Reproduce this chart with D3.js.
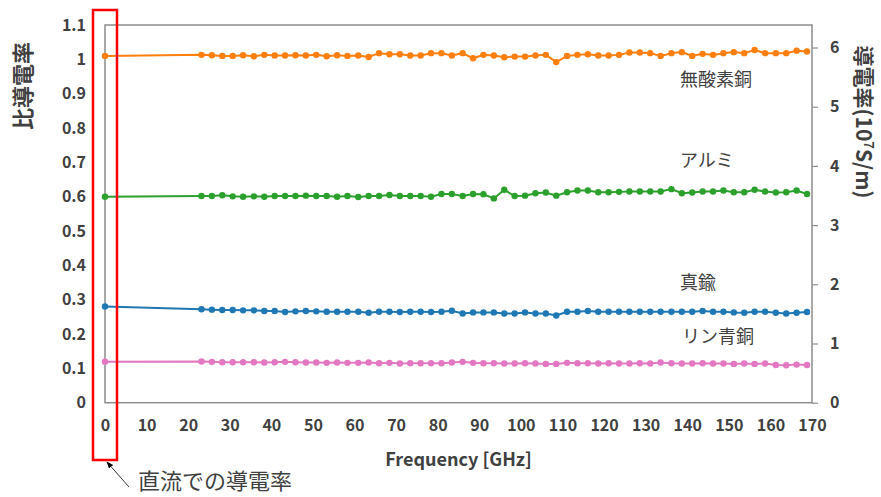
<!DOCTYPE html>
<html><head><meta charset="utf-8">
<script src="https://cdn.jsdelivr.net/npm/d3@7"></script>
<style>
html,body{margin:0;padding:0;background:#fff;}
svg text{font-family:"Noto Sans CJK JP","Noto Sans",sans-serif;}
</style></head>
<body><svg id="c" width="881" height="497"></svg>
<script>
const freqs = [23.2,25.7,28.2,30.7,33.2,35.8,38.3,40.8,43.3,45.8,48.3,50.8,53.3,55.8,58.3,60.9,63.4,65.9,68.4,70.9,73.4,75.9,78.4,80.9,83.4,86.0,88.5,91.0,93.5,96.0,98.5,101.0,103.5,106.0,108.5,111.1,113.6,116.1,118.6,121.1,123.6,126.1,128.6,131.1,133.6,136.2,138.7,141.2,143.7,146.2,148.7,151.2,153.7,156.2,158.7,161.3,163.8,166.3,168.8];
const seriesNames = ["無酸素銅","アルミ","真鍮","リン青銅"];
const dcValues = [1.010, 0.600, 0.280, 0.1195];
const oxygenFreeCopper = [1.013,1.012,1.010,1.010,1.012,1.009,1.013,1.011,1.011,1.012,1.011,1.013,1.009,1.012,1.010,1.011,1.007,1.018,1.015,1.015,1.011,1.011,1.018,1.018,
  1.011,1.018,1.003,1.013,1.011,1.006,1.008,1.008,1.011,1.013,0.992,1.010,1.013,1.015,1.011,1.011,1.013,1.020,1.020,1.018,1.010,1.018,1.021,1.010,1.016,1.013,1.018,1.021,1.018,1.027,1.018,1.018,1.018,1.025,1.023];
const aluminium = [0.602,0.602,0.604,0.601,0.600,0.601,0.600,0.602,0.602,0.602,0.603,0.602,0.602,0.600,0.602,0.599,0.602,0.602,0.605,0.602,0.602,0.602,0.600,0.608,
  0.608,0.602,0.608,0.607,0.595,0.620,0.602,0.603,0.610,0.612,0.603,0.613,0.618,0.618,0.613,0.613,0.614,0.615,0.615,0.615,0.615,0.622,0.610,0.612,0.615,0.615,0.618,0.613,0.613,0.620,0.615,0.612,0.613,0.618,0.608];
const brass = [0.272,0.271,0.270,0.270,0.269,0.269,0.267,0.267,0.264,0.266,0.267,0.266,0.265,0.265,0.265,0.265,0.262,0.265,0.265,0.264,0.265,0.265,0.264,0.265,
  0.268,0.260,0.263,0.263,0.263,0.260,0.260,0.263,0.260,0.260,0.254,0.265,0.265,0.267,0.265,0.265,0.265,0.265,0.265,0.265,0.265,0.265,0.265,0.265,0.267,0.265,0.265,0.263,0.262,0.265,0.265,0.262,0.260,0.262,0.264];
const phosphorBronze = [0.120,0.119,0.118,0.118,0.118,0.118,0.117,0.118,0.119,0.118,0.117,0.117,0.116,0.117,0.116,0.116,0.117,0.115,0.116,0.114,0.115,0.115,0.115,0.115,
  0.117,0.119,0.116,0.115,0.115,0.114,0.114,0.115,0.114,0.113,0.113,0.116,0.115,0.115,0.114,0.115,0.114,0.114,0.115,0.114,0.117,0.115,0.114,0.114,0.115,0.114,0.114,0.113,0.114,0.113,0.114,0.110,0.109,0.111,0.110];
const xTicks = [0,10,20,30,40,50,60,70,80,90,100,110,120,130,140,150,160,170];
const yLeftTicks = [0,0.1,0.2,0.3,0.4,0.5,0.6,0.7,0.8,0.9,1,1.1];
const yRightTicks = [0,1,2,3,4,5,6];
const colors = ["#ff7f0e","#2ca02c","#1f77b4","#e377c2"];

const allSeries = [oxygenFreeCopper, aluminium, brass, phosphorBronze];
const svg = d3.select("#c");
const L=105, R=812, T=25, B=402.7;
const x = d3.scaleLinear([0,170],[L,R]);
const yL = d3.scaleLinear([0,1.1],[B,T]);
const yR = d3.scaleLinear([0,1.1*5.8],[B,T]);
const tickColor = "#404040";

// plot box
svg.append("rect").attr("x",L).attr("y",T).attr("width",R-L).attr("height",B-T)
  .attr("fill","none").attr("stroke","#8c8c8c").attr("stroke-width",1.5);

// axes
const gx = svg.append("g").attr("transform",`translate(0,${B})`)
  .call(d3.axisBottom(x).tickValues(xTicks).tickSize(0).tickPadding(17).tickFormat(d3.format("d")));
const gl = svg.append("g").attr("transform",`translate(${L},0)`)
  .call(d3.axisLeft(yL).tickValues(yLeftTicks).tickSize(0).tickPadding(19).tickFormat(d=>d3.format("")(+d.toFixed(1))));
const gr = svg.append("g").attr("transform",`translate(${R},0)`)
  .call(d3.axisRight(yR).tickValues(yRightTicks).tickSize(6).tickPadding(12).tickFormat(d3.format("d")));
[gx,gl,gr].forEach(g=>{
  g.select(".domain").remove();
  g.selectAll("text").attr("fill",tickColor).attr("font-size",16).attr("font-weight",700)
    .style("font-family","'Noto Sans CJK JP',sans-serif");
  g.selectAll("line").attr("stroke","#8c8c8c").attr("stroke-width",1.2);
});

// series
const line = d3.line().x(d=>x(d[0])).y(d=>yL(d[1]));
allSeries.forEach((vals,i)=>{
  const pts = [[0,dcValues[i]]].concat(freqs.map((f,j)=>[f,vals[j]]));
  svg.append("path").datum(pts).attr("d",line).attr("fill","none")
    .attr("stroke",colors[i]).attr("stroke-width",2);
  svg.append("g").selectAll("circle").data(pts).join("circle")
    .attr("cx",d=>x(d[0])).attr("cy",d=>yL(d[1])).attr("r",3.2).attr("fill",colors[i]);
});

// series labels
const labelPos = [[680,86],[680,167],[680,289],[682,343]];
seriesNames.forEach((n,i)=>{
  svg.append("text").attr("x",labelPos[i][0]).attr("y",labelPos[i][1]).text(n)
    .attr("font-size",18).attr("fill",tickColor);
});

// axis titles
svg.append("text").attr("x",458.5).attr("y",466).attr("text-anchor","middle")
  .attr("font-size",18).attr("font-weight",700).attr("fill",tickColor).text("Frequency [GHz]");
svg.append("text").attr("transform","translate(31,86) rotate(-90)").attr("text-anchor","middle")
  .attr("font-size",22).attr("font-weight",700).attr("fill",tickColor).text("比導電率");
const rt = svg.append("text").attr("transform","translate(856,122) rotate(90)").attr("text-anchor","middle")
  .attr("font-size",21).attr("font-weight",700).attr("fill",tickColor);
rt.append("tspan").text("導電率(10");
rt.append("tspan").attr("font-size",13).attr("dy",-8).text("7");
rt.append("tspan").attr("dy",8).text("S/m)");

// annotation
svg.append("rect").attr("x",93).attr("y",10).attr("width",24).attr("height",450)
  .attr("fill","none").attr("stroke","#ff0000").attr("stroke-width",2.5);
svg.append("defs").append("marker").attr("id","ah").attr("viewBox","0 0 10 10")
  .attr("refX",9).attr("refY",5).attr("markerWidth",7).attr("markerHeight",7).attr("orient","auto")
  .append("path").attr("d","M0,1 L10,5 L0,9 Z").attr("fill","#000");
svg.append("line").attr("x1",129).attr("y1",487).attr("x2",107).attr("y2",462)
  .attr("stroke","#333").attr("stroke-width",1).attr("marker-end","url(#ah)");
svg.append("text").attr("x",138).attr("y",489).attr("font-size",22).attr("fill",tickColor).text("直流での導電率");
</script></body></html>
